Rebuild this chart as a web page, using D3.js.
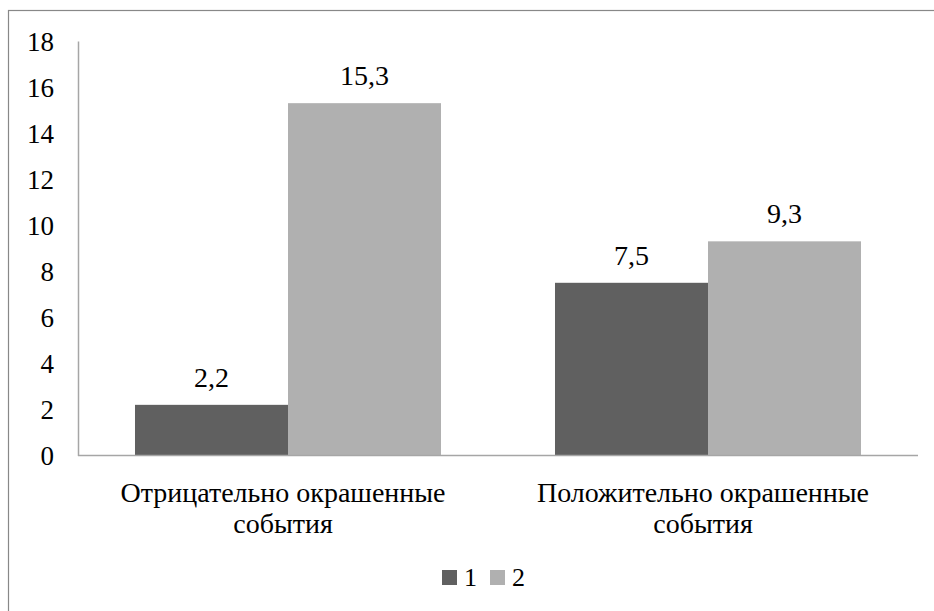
<!DOCTYPE html>
<html>
<head>
<meta charset="utf-8">
<script src="https://cdn.jsdelivr.net/npm/d3@7"></script>
</head>
<body style="margin:0">
<svg id="chart" width="934" height="611" font-family="Liberation Serif"></svg>
<script>
// Category labels (two lines each), series names and values
const categories = [
  ["Отрицательно окрашенные", "события"],
  ["Положительно окрашенные", "события"]
];
const seriesNames = ["1", "2"];
const series1 = [2.2, 7.5];
const series2 = [15.3, 9.3];
const yTicks = [0, 2, 4, 6, 8, 10, 12, 14, 16, 18];
const colors = ["#606060", "#b0b0b0"];

const FONT = "Liberation Serif";

const svg = d3.select("#chart");
const W = 934, H = 611;
const plot = { left: 78, right: 918, top: 41, bottom: 455.5 };

function label(parent, x, y, size, anchor) {
  return parent.append("text")
    .attr("x", x).attr("y", y)
    .attr("text-anchor", anchor || "start")
    .attr("font-family", FONT)
    .attr("font-size", size);
}

// Outer chart frame
svg.append("rect")
  .attr("x", 8.5).attr("y", 10.5)
  .attr("width", W).attr("height", H)
  .attr("fill", "none").attr("stroke", "#888").attr("stroke-width", 1.2);

const x0 = d3.scaleBand()
  .domain(d3.range(categories.length))
  .range([plot.left, plot.right])
  .paddingInner(0.2714).paddingOuter(0.1357);
const x1 = d3.scaleBand()
  .domain(seriesNames)
  .range([0, x0.bandwidth()]);
const y = d3.scaleLinear().domain([0, 18]).range([plot.bottom, plot.top]);

const valuesBySeries = [series1, series2];

// Bars with value labels
seriesNames.forEach((name, si) => {
  svg.append("g").selectAll("rect")
    .data(valuesBySeries[si])
    .join("rect")
    .attr("x", (d, i) => x0(i) + x1(name))
    .attr("y", d => y(d))
    .attr("width", x1.bandwidth())
    .attr("height", d => y(0) - y(d))
    .attr("fill", colors[si]);

  const gl = svg.append("g");
  valuesBySeries[si].forEach((d, i) => {
    label(gl, x0(i) + x1(name) + x1.bandwidth() / 2, y(d) - 18, 28, "middle")
      .text(String(d).replace(".", ","));
  });
});

// Y axis
const yAxis = d3.axisLeft(y).tickValues(yTicks).tickSize(0).tickPadding(0)
  .tickFormat(d => d);
const gy = svg.append("g").attr("transform", `translate(${plot.left},0)`).call(yAxis);
gy.attr("font-family", FONT).attr("font-size", 27).attr("fill", "#000");
gy.select(".domain").attr("stroke", "#a6a6a6").attr("stroke-width", 1.5);
gy.selectAll("text")
  .attr("fill", "#000")
  .attr("x", -24)
  .attr("text-anchor", "end")
  .attr("dy", "0.34em")
  .attr("font-family", FONT)
  .attr("font-size", 27);

// Baseline
svg.append("line")
  .attr("x1", plot.left).attr("x2", plot.right)
  .attr("y1", y(0)).attr("y2", y(0))
  .attr("stroke", "#a6a6a6").attr("stroke-width", 1.5);

// Category labels
categories.forEach((lines, i) => {
  const cx = x0(i) + x0.bandwidth() / 2 - 5;
  const t = label(svg, cx, 502, 28, "middle");
  lines.forEach((ln, k) => {
    t.append("tspan")
      .attr("x", cx)
      .attr("dy", k === 0 ? 0 : 31)
      .text(ln);
  });
});

// Legend
const legend = svg.append("g").attr("transform", "translate(442,570)");
seriesNames.forEach((name, si) => {
  const g = legend.append("g").attr("transform", `translate(${si * 48},0)`);
  g.append("rect").attr("width", 15).attr("height", 15).attr("fill", colors[si]);
  label(g, 22, 16, 26).text(name);
});
</script>
</body>
</html>
